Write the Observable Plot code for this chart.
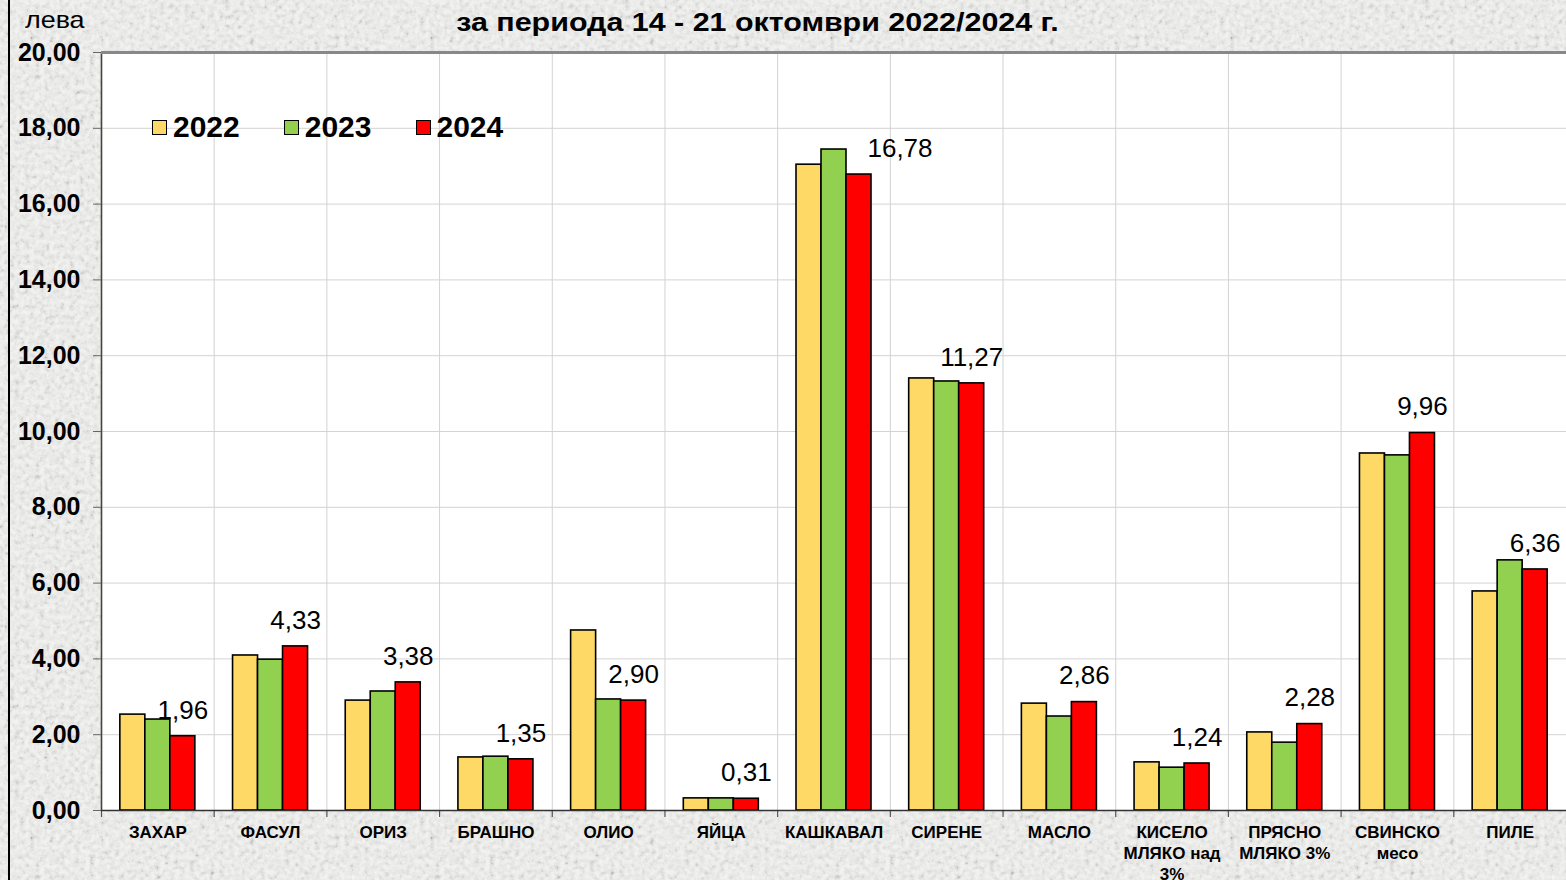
<!DOCTYPE html>
<html>
<head>
<meta charset="utf-8">
<script src="https://cdn.jsdelivr.net/npm/d3@7"></script>
<script src="https://cdn.jsdelivr.net/npm/@observablehq/plot@0.6"></script>
<style>
html, body { margin: 0; padding: 0; overflow: hidden; background: #e4e4e2; }
#page { position: relative; width: 1566px; height: 880px; font-family: "Liberation Sans", Arial, Helvetica, sans-serif; color: #000; overflow: hidden; }
#frameLine { position: absolute; left: 8px; top: 0; width: 2px; height: 880px; background: #000; }
#title { position: absolute; left: 0; width: 1514px; top: 6px; text-align: center; font-size: 26px; font-weight: bold; line-height: 32px; }
#title span { display: inline-block; transform: scaleX(1.17); }
#unit { position: absolute; left: 25px; top: 5px; font-size: 24px; line-height: 30px; }
#unit span { display: inline-block; transform: scaleX(1.12); transform-origin: left center; }
#chart { position: absolute; left: 0; top: 0; }
#legend { position: absolute; left: 152px; top: 110px; display: flex; align-items: center; font-size: 30px; font-weight: bold; }
.item { display: flex; align-items: center; margin-right: 44px; }
.sw { width: 13px; height: 13px; border: 1.5px solid #000; margin-right: 6px; }
</style>
</head>
<body>
<div id="page">
  <div id="chart"></div>
  <div id="frameLine"></div>
  <div id="unit"></div>
  <div id="title"></div>
  <div id="legend"></div>
</div>
<script>
const categories = ["ЗАХАР", "ФАСУЛ", "ОРИЗ", "БРАШНО", "ОЛИО", "ЯЙЦА", "КАШКАВАЛ", "СИРЕНЕ", "МАСЛО", "КИСЕЛО МЛЯКО над 3%", "ПРЯСНО МЛЯКО 3%", "СВИНСКО месо", "ПИЛЕ"];
const categoryLabels = ["ЗАХАР", "ФАСУЛ", "ОРИЗ", "БРАШНО", "ОЛИО", "ЯЙЦА", "КАШКАВАЛ", "СИРЕНЕ", "МАСЛО", "КИСЕЛО\nМЛЯКО над\n3%", "ПРЯСНО\nМЛЯКО 3%", "СВИНСКО\nмесо", "ПИЛЕ"];
const years = ["2022", "2023", "2024"];
const values2022 = [2.53, 4.09, 2.90, 1.40, 4.75, 0.32, 17.04, 11.40, 2.82, 1.27, 2.06, 9.42, 5.78];
const values2023 = [2.40, 3.98, 3.14, 1.42, 2.93, 0.32, 17.44, 11.32, 2.48, 1.13, 1.79, 9.37, 6.60];
const values2024 = [1.96, 4.33, 3.38, 1.35, 2.90, 0.31, 16.78, 11.27, 2.86, 1.24, 2.28, 9.96, 6.36];
const yTicks = [0, 2, 4, 6, 8, 10, 12, 14, 16, 18, 20];
const colors = ["#FFD966", "#92D050", "#FF0000"];
const titleText = "за периода 14 - 21 октомври 2022/2024 г.";
const unitText = "лева";
const shiftedLabel = "КАШКАВАЛ";

// background texture
const noiseSvg = `<svg xmlns='http://www.w3.org/2000/svg' width='400' height='400'><filter id='n'><feTurbulence type='fractalNoise' baseFrequency='0.2' numOctaves='4' seed='7' stitchTiles='stitch'/><feColorMatrix type='saturate' values='0'/><feComponentTransfer><feFuncR type='linear' slope='2.4' intercept='-0.6'/><feFuncG type='linear' slope='2.4' intercept='-0.6'/><feFuncB type='linear' slope='2.4' intercept='-0.6'/></feComponentTransfer></filter><rect width='100%' height='100%' fill='#efefed'/><rect width='100%' height='100%' filter='url(#n)' opacity='0.3'/></svg>`;
document.getElementById("page").style.background = `url("data:image/svg+xml,${encodeURIComponent(noiseSvg)}")`;

const titleSpan = document.createElement("span"); titleSpan.textContent = titleText;
document.getElementById("title").appendChild(titleSpan);
const unitSpan = document.createElement("span"); unitSpan.textContent = unitText;
document.getElementById("unit").appendChild(unitSpan);
const legend = document.getElementById("legend");
years.forEach((y, i) => {
  const it = document.createElement("div"); it.className = "item";
  const sw = document.createElement("div"); sw.className = "sw"; sw.style.background = colors[i];
  const t = document.createElement("span"); t.textContent = y;
  it.appendChild(sw); it.appendChild(t); legend.appendChild(it);
});

const series = [values2022, values2023, values2024];
const rows = [];
years.forEach((yr, i) => categories.forEach((c, j) => rows.push({cat: c, year: yr, value: series[i][j]})));

const fmt = v => v.toFixed(2).replace(".", ",");
const W = 1566, H = 880, mL = 101, mR = 0, mT = 52, mB = 70;
const step = (W - mL - mR) / categories.length;
const barW = 25;
const inset = (step - barW) / 2;

const barMarks = years.map((yr, i) => Plot.barY(rows.filter(d => d.year === yr), {
  x: "cat", y: "value", fill: "year", stroke: "#000", strokeWidth: 1.6,
  insetLeft: inset, insetRight: inset, dx: (i - 1) * barW
}));

const last = rows.filter(d => d.year === "2024");

const chart = Plot.plot({
  width: W, height: H,
  marginLeft: mL, marginRight: mR, marginTop: mT, marginBottom: mB,
  style: {background: "transparent", fontFamily: "'Liberation Sans', Arial, Helvetica, sans-serif", overflow: "visible", color: "#000"},
  x: {domain: categories, padding: 0, round: false, label: null},
  y: {domain: [0, 20], label: null},
  color: {domain: years, range: colors},
  marks: [
    Plot.frame({fill: "#fff", stroke: null}),
    Plot.gridY(yTicks, {stroke: "#d3d3d3", strokeOpacity: 1, strokeWidth: 1}),
    Plot.ruleX(categories.slice(1), {x: d => d, dx: -step / 2, stroke: "#d3d3d3", strokeWidth: 1}),
    Plot.ruleX(categories, {x: d => d, dx: -step / 2, y1: 0, y2: 0, insetBottom: -7, stroke: "#555", strokeWidth: 1.2}),
    ...barMarks,
    Plot.ruleX([categories[0]], {x: d => d, dx: -step / 2, stroke: "#444", strokeWidth: 1.6}),
    Plot.ruleY([0], {stroke: "#333", strokeWidth: 1.6}),
    Plot.ruleY([20], {stroke: "#888", strokeWidth: 3}),
    Plot.text(last.filter(d => d.cat !== shiftedLabel), {x: "cat", y: "value", text: d => fmt(d.value), dx: barW, dy: -26, fontSize: 26, fill: "#000"}),
    Plot.text(last.filter(d => d.cat === shiftedLabel), {x: "cat", y: "value", text: d => fmt(d.value), dx: barW + 41, dy: -26, fontSize: 26, fill: "#000"}),
    Plot.axisY(yTicks, {tickFormat: fmt, fontSize: 25, fontWeight: "bold", tickSize: 8, tickPadding: 13, stroke: "#666", fill: "#000", label: null}),
    Plot.axisX({tickSize: 0, tickPadding: 12, tickFormat: d => categoryLabels[categories.indexOf(d)], fontSize: 17, fontWeight: "bold", lineHeight: 1.25, fill: "#000", label: null})
  ]
});
document.getElementById("chart").appendChild(chart);
</script>
</body>
</html>
